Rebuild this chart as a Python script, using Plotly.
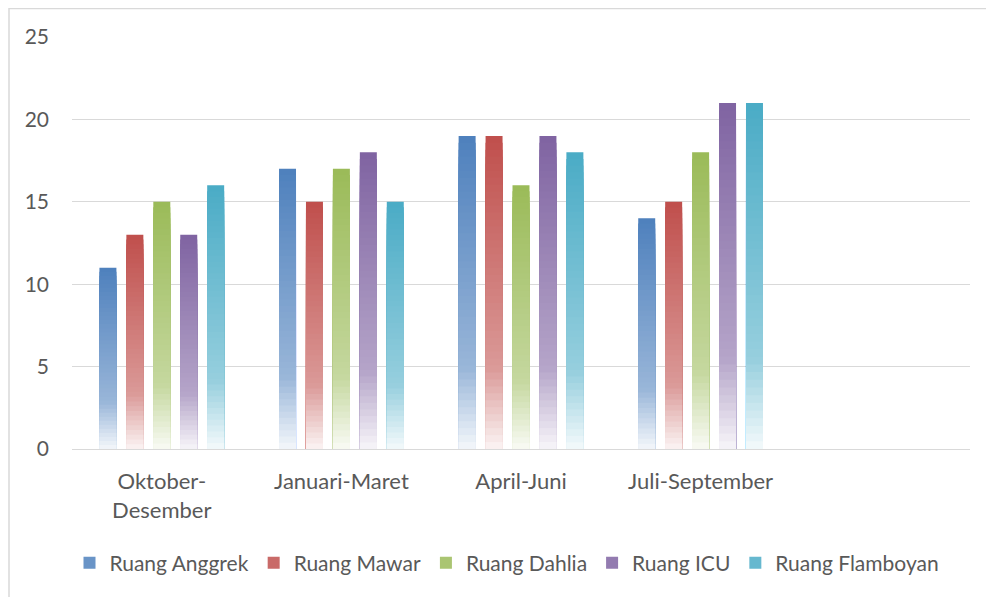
import plotly.graph_objects as go

categories = ["Oktober-<br>Desember", "Januari-Maret", "April-Juni", "Juli-September", " "]
series_names = ["Ruang Anggrek", "Ruang Mawar", "Ruang Dahlia", "Ruang ICU", "Ruang Flamboyan"]
anggrek = [11, 17, 19, 14, None]
mawar = [13, 15, 19, 15, None]
dahlia = [15, 17, 16, 18, None]
icu = [13, 18, 19, 21, None]
flamboyan = [16, 15, 18, 21, None]
series_values = [anggrek, mawar, dahlia, icu, flamboyan]
colors = ["#4F81BD", "#C0504D", "#9BBB59", "#8064A2", "#4BACC6"]


def hex_rgb(h):
    h = h.lstrip("#")
    return tuple(int(h[i:i + 2], 16) for i in (0, 2, 4))


def tint(h, t):
    r, g, b = hex_rgb(h)
    return "rgb(%d,%d,%d)" % (round(r + (255 - r) * t), round(g + (255 - g) * t), round(b + (255 - b) * t))


def tint_at(f):
    # f = fraction of bar height (1 top, 0 bottom)
    if f >= 0.27:
        return 0.42 * (1 - f) / 0.73
    return 0.42 + (0.96 - 0.42) * (0.27 - f) / 0.27


fig = go.Figure()
N = 45
for name, vals, col in zip(series_names, series_values, colors):
    fig.add_trace(go.Bar(
        x=categories, y=vals, name=name, offsetgroup=name,
        marker=dict(color=col, line=dict(width=0)),
        showlegend=False, hoverinfo="skip"))
    for k in range(1, N):
        fr = 1 - k / N
        h = [v * (1 - k / N) if v is not None else None for v in vals]
        fig.add_trace(go.Bar(
            x=categories, y=h, offsetgroup=name,
            marker=dict(color=tint(col, tint_at(fr)), line=dict(width=0)),
            showlegend=False, hoverinfo="skip"))
    # legend entry
    fig.add_trace(go.Bar(
        x=[categories[0]], y=[None], name=name, offsetgroup=name,
        marker=dict(color=tint(col, 0.15), line=dict(width=0)),
        showlegend=True))

font_family = "Lato, Open Sans, sans-serif"
L, R, T, B = 64, 32, 29, 156
PW, PH = 994 - L - R, 597 - T - B
fig.update_layout(
    width=994, height=597,
    barmode="group", bargap=0.25, bargroupgap=0.37,
    plot_bgcolor="white", paper_bgcolor="white",
    margin=dict(l=L, r=R, t=T, b=B, autoexpand=False),
    font=dict(family=font_family, size=21, color="#595959"),
    showlegend=True,
    legend=dict(orientation="h", x=0.5 - 14 / PW, xanchor="center", y=(449 - 563) / PH, yanchor="middle",
                font=dict(size=21, color="#595959"), itemwidth=30, traceorder="normal",
                entrywidthmode="pixels"),
    xaxis=dict(type="category", categoryorder="array", categoryarray=categories,
               showgrid=False, showline=True, linecolor="#D9D9D9", linewidth=1,
               ticks="", ticklabelstandoff=13, tickfont=dict(size=22, color="#595959")),
    yaxis=dict(range=[0, 25], dtick=5, showgrid=True, gridcolor="#D9D9D9", gridwidth=1,
               zeroline=False, showline=False, ticks="", ticklabelstandoff=22,
               tickfont=dict(size=21, color="#595959")),
    shapes=[dict(type="rect", xref="paper", yref="paper",
                 x0=(-L + 1) / PW, x1=1 + (R + 10) / PW, y0=-(B + 10) / PH, y1=1 + (T - 0.5) / PH,
                 line=dict(color="#D9D9D9", width=1.5), layer="below")],
)

fig.write_html("out.html")
